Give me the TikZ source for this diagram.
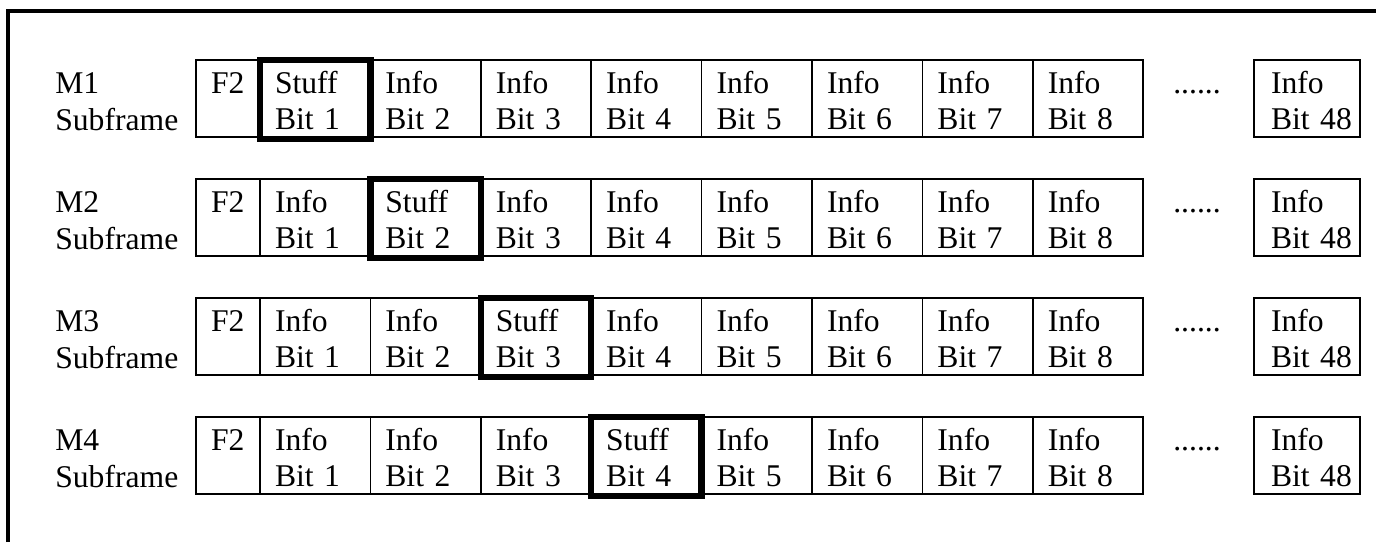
\documentclass[tikz,border=0pt]{standalone}
\usepackage{fontspec}
\setmainfont{Liberation Serif}

\begin{document}
\begin{tikzpicture}[x=0.02cm, y=-0.02cm, font=\fontsize{18}{21}\selectfont]
  \tikzstyle{cell}=[draw, line width=1pt, outer sep=0pt, anchor=north west, align=left, inner xsep=0.3cm, inner ysep=0pt, text height=0.66cm, text depth=0.88cm, text width=1.608cm]
  \tikzstyle{stuff}=[cell, line width=3.6pt, text depth=0.92cm]
  \tikzstyle{rowlabel}=[anchor=north west, align=left, inner sep=0pt, text height=0.66cm, text depth=0.88cm, text width=2.6cm]
  \useasboundingbox (0,0) rectangle (1376,542);
  \draw[line width=2pt] (8,542) -- (8,11) -- (1376,11);
  \foreach \r in {1,...,4} {
    \pgfmathsetmacro{\rowtop}{60+119*(\r-1)}
    \node[rowlabel] (lab\r) at (55,\rowtop) {M\r\\Subframe};
    \node[cell, text width=0.68cm] (f2-\r) at (196,\rowtop) {F2};
    \foreach \c in {1,...,8} {
      \pgfmathsetmacro{\colx}{260+110.4*(\c-1)}
      \ifnum\c=\r
        \node[stuff] (b\r-\c) at (\colx,\rowtop) {Stuff\\Bit \c};
      \else
        \node[cell] (b\r-\c) at (\colx,\rowtop) {Info\\Bit \c};
      \fi
    }
    \node[anchor=base, inner sep=0pt] (dots\r) at (1197,{\rowtop+33}) {......};
    \node[cell, inner xsep=0.34cm, text width=1.44cm] (b\r-48) at (1254,\rowtop) {Info\\Bit~48};
  }
\end{tikzpicture}
\end{document}
